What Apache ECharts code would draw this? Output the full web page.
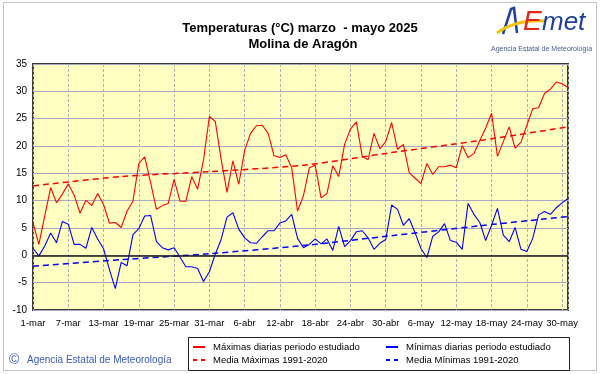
<!DOCTYPE html>
<html>
<head>
<meta charset="utf-8">
<script src="https://cdn.jsdelivr.net/npm/echarts@6/dist/echarts.min.js"></script>
<style>
html,body{margin:0;padding:0;background:#fff;}
#c{width:601px;height:374px;}
</style>
</head>
<body>
<div id="c"></div>
<script>
// Day labels every 6 days from 1-mar (index 0) to 31-may (index 91)
const tickLabels = ['1-mar','7-mar','13-mar','19-mar','25-mar','31-mar','6-abr','12-abr','18-abr','24-abr','30-abr','6-may','12-may','18-may','24-may','30-may'];

// Daily maxima, 1-mar .. 31-may (92 days)
const maxDaily = [6.0,2.0,7.2,12.4,9.6,11.2,13.1,11.0,7.7,10.1,9.1,11.3,9.3,5.9,6.0,5.1,8.1,9.9,16.8,18.0,
  13.3,8.4,9.1,9.5,13.9,9.9,9.9,14.4,12.1,17.4,25.4,24.5,17.6,11.5,17.3,13.0,19.2,22.3,23.7,23.8,
  22.3,18.2,17.9,18.4,16.0,8.1,10.9,16.0,16.5,10.5,11.3,16.4,14.4,20.3,23.1,24.4,18.1,17.5,22.3,19.5,
  20.8,24.3,19.4,20.3,15.1,14.1,13.1,16.8,14.8,16.2,16.2,16.5,16.0,20.1,17.9,18.6,21.0,23.3,26.0,18.1,
  20.8,23.5,19.6,20.7,23.8,26.8,27.0,29.6,30.4,31.7,31.4,30.7];

// Daily minima
const minDaily = [1.3,-0.1,1.7,4.1,2.3,6.2,5.7,2.0,2.0,1.3,5.1,3.0,1.2,-2.6,-6.1,-1.3,-1.9,3.8,4.9,7.2,
  7.3,2.5,1.4,1.0,1.4,-0.3,-2.1,-2.1,-2.4,-4.8,-3.0,0.2,2.9,7.0,7.8,4.8,3.2,2.3,2.2,3.4,
  4.5,4.5,5.9,6.3,7.5,3.1,1.4,2.0,3.0,2.1,3.0,0.9,5.3,1.6,2.7,4.3,4.5,3.2,1.1,2.2,
  2.9,9.2,8.4,5.5,6.7,4.1,1.2,-0.4,3.5,4.3,5.8,2.7,2.4,1.1,9.5,7.5,6.0,2.7,5.5,8.6,
  3.7,2.5,5.1,1.1,0.7,3.1,7.4,8.0,7.5,8.7,9.6,10.4];

// Climatological means 1991-2020, read at a few days
const climDays = [0,15,30,46,61,76,91];
const climMax = [12.7,14.4,15.3,16.5,18.8,21.0,23.5];
const climMin = [-2.0,-0.8,0.3,1.8,3.6,5.4,7.1];

const names = ['Máximas diarias periodo estudiado','Mínimas diarias periodo estudiado','Media Máximas 1991-2020','Media Mínimas 1991-2020'];

const pairs = (xs, ys) => ys.map((v, i) => [xs ? xs[i] : i, v]);
const FONT = "'Liberation Sans', Arial, sans-serif";
const dashIcon = 'path://M0,0h4v2h-4z M8,0h4v2h-4z';

const chart = echarts.init(document.getElementById('c'), null, {renderer: 'canvas'});

function legendAt(name, left, top, icon) {
  return {
    data: [name], left: left, top: top, orient: 'horizontal',
    icon: icon, itemWidth: 12, itemHeight: 2, itemGap: 0, padding: 0,
    selectedMode: false,
    textStyle: {fontFamily: FONT, fontSize: 9.5, color: '#000', padding: [0,0,0,3]}
  };
}

chart.setOption({
  animation: false,
  backgroundColor: '#fff',
  textStyle: {fontFamily: FONT},
  title: [
    {text: 'Temperaturas (°C) marzo  - mayo 2025', left: 295, top: 17, textAlign: 'center',
     textStyle: {fontFamily: FONT, fontSize: 13, fontWeight: 'bold', color: '#000'}},
    {text: 'Molina de Aragón', left: 298, top: 33, textAlign: 'center',
     textStyle: {fontFamily: FONT, fontSize: 13, fontWeight: 'bold', color: '#000'}}
  ],
  grid: {left: 33, top: 64, width: 535, height: 246, show: true, backgroundColor: '#FFFFC2',
         borderColor: '#3c3c3c', borderWidth: 2, containLabel: false},
  legend: [
    legendAt(names[0], 193, 342, 'rect'),
    legendAt(names[2], 193, 355, dashIcon),
    legendAt(names[1], 386, 342, 'rect'),
    legendAt(names[3], 386, 355, dashIcon)
  ],
  xAxis: {
    type: 'value', min: 0, max: 91, interval: 6,
    axisLine: {show: false}, axisTick: {show: false},
    axisLabel: {fontFamily: FONT, fontSize: 9.5, color: '#000', margin: 8, showMaxLabel: false,
      formatter: v => tickLabels[Math.round(v / 6)] || ''},
    splitLine: {show: true, lineStyle: {color: '#b0b0b0', type: [3, 2], width: 1}}
  },
  yAxis: {
    type: 'value', min: -10, max: 35, interval: 5,
    axisLine: {show: false}, axisTick: {show: false},
    axisLabel: {fontFamily: FONT, fontSize: 10, color: '#000', margin: 6},
    splitLine: {show: true, lineStyle: {color: '#a8a8c4', width: 1}}
  },
  series: [
    {name: names[2], type: 'line', data: pairs(climDays, climMax), showSymbol: false, symbol: 'none',
     smooth: 0.3, lineStyle: {color: '#ff0000', width: 1.5, type: [6, 4]}, itemStyle: {color: '#ff0000'}, z: 3},
    {name: names[3], type: 'line', data: pairs(climDays, climMin), showSymbol: false, symbol: 'none',
     smooth: 0.3, lineStyle: {color: '#0000ff', width: 1.5, type: [6, 4]}, itemStyle: {color: '#0000ff'}, z: 3},
    {name: names[0], type: 'line', data: pairs(null, maxDaily), showSymbol: false, symbol: 'none',
     lineStyle: {color: '#ff0000', width: 1.1}, itemStyle: {color: '#ff0000'}, z: 4},
    {name: names[1], type: 'line', data: pairs(null, minDaily), showSymbol: false, symbol: 'none',
     lineStyle: {color: '#0000ff', width: 1.1}, itemStyle: {color: '#0000ff'}, z: 4,
     markLine: {silent: true, symbol: 'none', label: {show: false},
       lineStyle: {color: '#1a1a1a', width: 1.5, type: 'solid'}, data: [{yAxis: 0}]}}
  ],
  graphic: [
    {type: 'rect', shape: {x: 3.5, y: 2.5, width: 593, height: 368}, silent: true,
     style: {fill: null, stroke: '#888', lineWidth: 1, lineDash: [1, 1]}},
    {type: 'rect', shape: {x: 188.5, y: 337.5, width: 381, height: 33}, silent: true,
     style: {fill: null, stroke: '#222', lineWidth: 1}},
    {type: 'text', left: 9, top: 353, silent: true,
     style: {text: '©', fontFamily: FONT, fontSize: 14, fill: '#3a5bb8'}},
    {type: 'text', left: 27, top: 355, silent: true,
     style: {text: 'Agencia Estatal de Meteorología', fontFamily: FONT, fontSize: 10, fill: '#3a5bb8'}},
    // AEMET logo (approximation)
    {type: 'polyline', shape: {points: [[503, 34], [511, 9], [514, 8], [517, 33]]}, silent: true,
     style: {stroke: '#1f3f9f', lineWidth: 2.5, fill: null}},
    {type: 'bezierCurve', shape: {x1: 497, y1: 33, x2: 545, y2: 21, cpx1: 512, cpy1: 22, cpx2: 530, cpy2: 20}, silent: true,
     style: {stroke: '#f3c300', lineWidth: 3, fill: null}},
    {type: 'text', left: 523, top: 8, silent: true,
     style: {text: 'E', fontFamily: FONT, fontSize: 28, fontStyle: 'italic', fill: '#e0281c'}},
    {type: 'text', left: 542, top: 10, silent: true,
     style: {text: 'met', fontFamily: FONT, fontSize: 26, fontStyle: 'italic', fill: '#1f3f9f'}},
    {type: 'text', left: 491, top: 46, silent: true,
     style: {text: 'Agencia Estatal de Meteorología', fontFamily: FONT, fontSize: 7, fill: '#4a5a8a'}}
  ]
});
</script>
</body>
</html>
